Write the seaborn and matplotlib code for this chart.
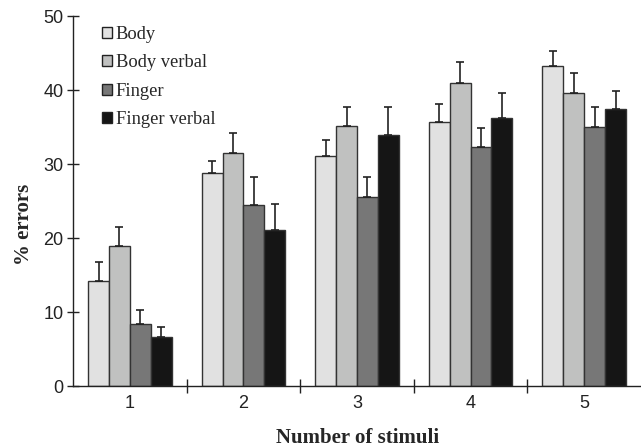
import numpy as np
import pandas as pd
import matplotlib
matplotlib.use("Agg")
import matplotlib.pyplot as plt
import seaborn as sns
from matplotlib.patches import Patch

stimuli = ["1", "2", "3", "4", "5"]
conditions = ["Body", "Body verbal", "Finger", "Finger verbal"]
body = [14.2, 28.8, 31.1, 35.7, 43.3]
body_verbal = [18.9, 31.5, 35.1, 41.0, 39.6]
finger = [8.4, 24.5, 25.5, 32.3, 35.0]
finger_verbal = [6.6, 21.1, 34.0, 36.3, 37.5]
body_err = [2.6, 1.6, 2.1, 2.4, 2.0]
body_verbal_err = [2.6, 2.7, 2.6, 2.8, 2.7]
finger_err = [1.9, 3.7, 2.7, 2.6, 2.7]
finger_verbal_err = [1.4, 3.5, 3.7, 3.3, 2.4]
colors = ["#e1e1e1", "#c0c1c0", "#777777", "#151515"]

vals = [body, body_verbal, finger, finger_verbal]
errs = [body_err, body_verbal_err, finger_err, finger_verbal_err]
rows = []
for c, v, e in zip(conditions, vals, errs):
    for s, vv, ee in zip(stimuli, v, e):
        rows.append({"stim": s, "cond": c, "val": vv, "err": ee})
df = pd.DataFrame(rows)

sns.set_style("white")
plt.rcParams["font.family"] = ["Liberation Sans", "DejaVu Sans"]

fig = plt.figure(figsize=(6.41, 4.48), dpi=100)
ax = fig.add_axes([0.114, 0.138, 0.886, 0.826])

sns.barplot(data=df, x="stim", y="val", hue="cond", order=stimuli,
            hue_order=conditions, palette=colors, errorbar=None,
            width=0.735, edgecolor="#333333", linewidth=1.0,
            legend=False, ax=ax)

# error bars (upward only) from bar patches
for ci, c in enumerate(conditions):
    cont = ax.containers[ci]
    for bi, bar in enumerate(cont):
        xc = bar.get_x() + bar.get_width() / 2
        h = bar.get_height()
        e = errs[ci][bi]
        ax.errorbar([xc], [h], yerr=[[0], [e]], fmt="none",
                    ecolor="#222222", elinewidth=1.2, capsize=3, capthick=1.2)

ax.set_xlim(-0.5, 4.5)
ax.set_ylim(0, 50)
ax.set_yticks([0, 10, 20, 30, 40, 50])
ax.set_xticks(range(5))
ax.set_xticklabels(stimuli)
ax.tick_params(axis="x", length=0, labelsize=13, pad=6, colors="#222222")
ax.tick_params(axis="y", direction="inout", length=8, width=1,
               labelsize=13, colors="#222222", left=True, pad=3)
ax.set_xticks([0.5, 1.5, 2.5, 3.5], minor=True)
ax.tick_params(axis="x", which="minor", direction="inout", length=10, width=1,
               bottom=True, color="#222222")

for s in ["top", "right"]:
    ax.spines[s].set_visible(False)
for s in ["left", "bottom"]:
    ax.spines[s].set_color("#222222")
    ax.spines[s].set_linewidth(1.0)

ax.set_ylabel("% errors", family=["Liberation Serif"], fontweight="bold",
              fontsize=15)
ax.yaxis.set_label_coords(24 / 641, 0.5, transform=fig.transFigure)
ax.set_xlabel("Number of stimuli", family=["Liberation Serif"], fontweight="bold",
              fontsize=15)
ax.xaxis.set_label_coords(0.5, 1 - 438 / 448, transform=fig.transFigure)
ax.xaxis.label.set_verticalalignment("center")
ax.xaxis.label.set_x(358 / 641)
ax.yaxis.label.set_verticalalignment("center")

handles = [Patch(facecolor=col, edgecolor="#222222", linewidth=1.0, label=c)
           for col, c in zip(colors, conditions)]
leg = ax.legend(handles=handles, loc="upper left",
                bbox_to_anchor=(102 / 641, 1 - 26 / 448),
                bbox_transform=fig.transFigure, borderaxespad=0, borderpad=0,
                frameon=False, prop={"family": "Liberation Serif", "size": 13.3},
                handlelength=0.55, handleheight=0.55, handletextpad=0.2,
                labelspacing=0.62)

fig.savefig("out.png", dpi=100)
